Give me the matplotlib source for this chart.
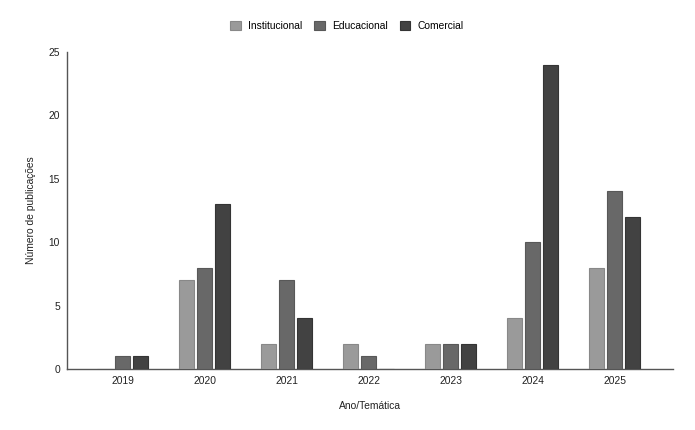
import matplotlib
matplotlib.use("Agg")
import matplotlib.pyplot as plt
import numpy as np

years = ["2019", "2020", "2021", "2022", "2023", "2024", "2025"]
institucional = [0, 7, 2, 2, 2, 4, 8]
educacional = [1, 8, 7, 1, 2, 10, 14]
comercial = [1, 13, 4, 0, 2, 24, 12]
series_names = ["Institucional", "Educacional", "Comercial"]
yticks = [0, 5, 10, 15, 20, 25]

plt.rcParams['font.family'] = ['Liberation Sans', 'DejaVu Sans']

fig = plt.figure(figsize=(6.95, 4.30), dpi=100)
ax = fig.add_axes([67/695, 61/430, (673-67)/695, (369-52)/430])

colors = ["#9a9a9a", "#686868", "#424242"]
edges = ["#888888", "#585858", "#343434"]
x = np.arange(len(years))
step = 0.22
width = 0.185
for i, (vals, name) in enumerate(zip([institucional, educacional, comercial], series_names)):
    ax.bar(x + (i - 1) * step, vals, width=width, color=colors[i],
           edgecolor=edges[i], linewidth=0.8, label=name, zorder=3)

ax.set_xlim(-0.68, 6.71)
ax.set_ylim(0, 25)
ax.set_xticks(x)
ax.set_xticklabels(years)
ax.set_yticks(yticks)
ax.tick_params(axis='both', length=0, labelsize=7.4, colors="#222222", pad=5)
for s in ["top", "right"]:
    ax.spines[s].set_visible(False)
for s in ["left", "bottom"]:
    ax.spines[s].set_color("#555555")
    ax.spines[s].set_linewidth(1.0)

ax.set_xlabel("Ano/Temática", fontsize=7.4, color="#222222", labelpad=11)
ax.set_ylabel("Número de publicações", fontsize=7.4, color="#222222", labelpad=9)

fig.legend(loc="center", bbox_to_anchor=(347/695, 1 - 26/430), ncol=3,
           frameon=False, fontsize=7.4, handlelength=1.0, handleheight=1.0,
           columnspacing=1.2, handletextpad=0.7)

fig.savefig("out.png", dpi=100, facecolor="white")
